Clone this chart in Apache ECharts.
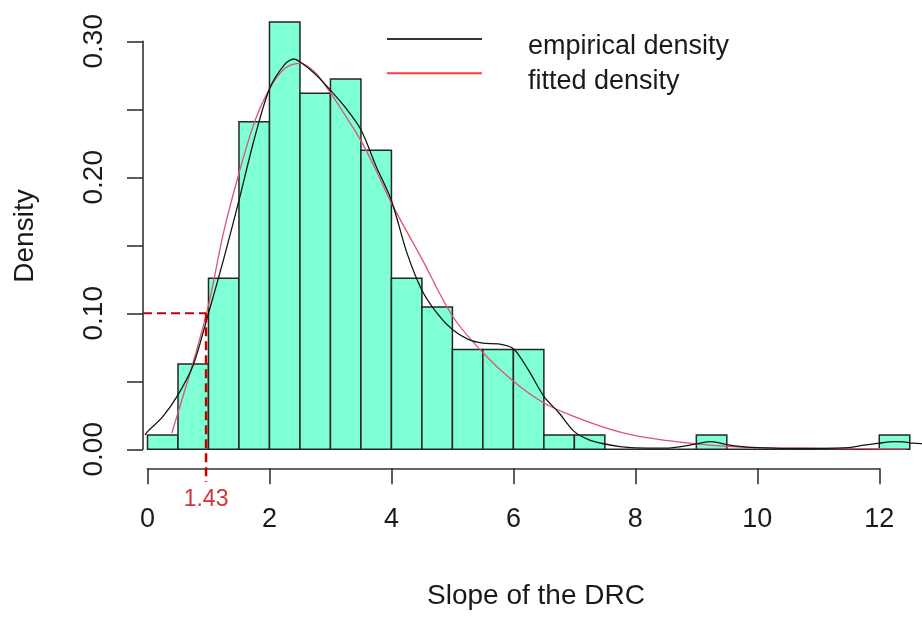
<!DOCTYPE html>
<html><head><meta charset="utf-8">
<script src="https://cdn.jsdelivr.net/npm/echarts@6/dist/echarts.min.js"></script>
<style>html,body{margin:0;padding:0;background:#fff}#c{width:922px;height:617px}</style>
</head><body><div id="c"></div>
<script>
// ---- data ----
const binEdges = [0, 0.5, 1, 1.5, 2, 2.5, 3, 3.5, 4, 4.5, 5, 5.5, 6, 6.5, 7, 7.5, 8, 8.5, 9, 9.5, 10, 10.5, 11, 11.5, 12, 12.5];
const densityValues = [0.0105, 0.0628, 0.1257, 0.2408, 0.3141, 0.2618, 0.2723, 0.2199, 0.1257, 0.1047, 0.0733, 0.0733, 0.0733, 0.0105, 0.0105, 0, 0, 0, 0.0105, 0, 0, 0, 0, 0, 0.0105];
const empiricalX = [-0.04, 0, 0.25, 0.5, 0.75, 1.0, 1.25, 1.5, 1.75, 2.0, 2.25, 2.4, 2.5, 2.75, 3.0, 3.25, 3.5, 3.75, 4.0, 4.25, 4.5, 4.75, 5.0, 5.25, 5.5, 5.75, 6.0, 6.25, 6.5, 6.75, 7.0, 7.25, 7.5, 7.75, 8.0, 8.5, 8.75, 9.0, 9.25, 9.5, 9.75, 10.0, 10.5, 11.0, 11.5, 11.75, 12.0, 12.25, 12.4, 12.55, 12.7];
const empiricalY = [0.0105, 0.013, 0.024, 0.040, 0.062, 0.100, 0.140, 0.183, 0.228, 0.265, 0.283, 0.287, 0.285, 0.276, 0.264, 0.251, 0.235, 0.208, 0.183, 0.145, 0.117, 0.100, 0.088, 0.081, 0.078, 0.0775, 0.074, 0.058, 0.039, 0.0267, 0.013, 0.0068, 0.0039, 0.0019, 0.001, 0.0008, 0.002, 0.004, 0.0056, 0.0035, 0.002, 0.0012, 0.0007, 0.0007, 0.0012, 0.003, 0.0045, 0.0056, 0.0055, 0.0045, 0.0042];
const fittedX = [0.4, 0.5, 0.75, 1.0, 1.25, 1.5, 1.75, 2.0, 2.25, 2.5, 2.75, 3.0, 3.25, 3.5, 3.75, 4.0, 4.5, 5.0, 5.5, 6.0, 6.5, 7.0, 7.5, 8.0, 8.5, 9.0, 9.5, 10.0, 10.5, 11.0, 11.5, 12.0, 12.45];
const fittedY = [0.012, 0.027, 0.064, 0.106, 0.160, 0.203, 0.240, 0.265, 0.280, 0.284, 0.277, 0.262, 0.245, 0.227, 0.205, 0.181, 0.140, 0.098, 0.071, 0.050, 0.034, 0.024, 0.016, 0.010, 0.0065, 0.004, 0.0022, 0.0013, 0.0009, 0.0007, 0.0005, 0.0004, 0.0003];
const xTickLabels = ['0', '2', '4', '6', '8', '10', '12'];
const yTickLabels = ['0.00', '0.10', '0.20', '0.30'];
const cutoffX = 0.96;
const cutoffY = 0.10;
const cutoffLabel = '1.43';
const seriesNames = ['empirical density', 'fitted density'];
const xTitle = 'Slope of the DRC';
const yTitle = 'Density';

// ---- chart ----
const FONT = "'Liberation Sans', Arial, sans-serif";
const TXT = '#1a1a1a';
const AX = '#333';
const RED = '#C40000';
const X_MIN = -0.0738, X_MAX = 12.7006, Y_MIN = -0.04, Y_MAX = 0.33;

const histData = densityValues.map((d, i) => [binEdges[i], binEdges[i + 1], d]);
const empData = empiricalX.map((x, i) => [x, empiricalY[i]]);
const fitData = fittedX.map((x, i) => [x, fittedY[i]]);

const chart = echarts.init(document.getElementById('c'));
const richText = (size) => ({ a: { fontSize: size, fontFamily: FONT, color: TXT, padding: [16, 0, 0, 41] } });

chart.setOption({
  animation: false,
  backgroundColor: '#fff',
  grid: [
    { left: 143, width: 779, top: 0.5, height: 503.2 },
    { left: 147.5, width: 731.8, top: 400, height: 68.3 },
    { left: 143, width: 50, top: 41.3, height: 408 }
  ],
  xAxis: [
    { gridIndex: 0, type: 'value', min: X_MIN, max: X_MAX, show: false },
    { gridIndex: 1, type: 'value', min: 0, max: 12, interval: 2,
      axisLine: { show: true, lineStyle: { color: AX, width: 1.6 } },
      axisTick: { show: true, length: 16, lineStyle: { color: AX, width: 1.6 } },
      axisLabel: { margin: 38, fontSize: 27, fontFamily: FONT, color: TXT,
        formatter: (v) => xTickLabels.indexOf(String(v)) >= 0 ? String(v) : '' },
      splitLine: { show: false } },
    { gridIndex: 2, type: 'value', show: false }
  ],
  yAxis: [
    { gridIndex: 0, type: 'value', min: Y_MIN, max: Y_MAX, show: false },
    { gridIndex: 1, type: 'value', show: false },
    { gridIndex: 2, type: 'value', min: 0, max: 0.3, interval: 0.05,
      axisLine: { show: true, lineStyle: { color: AX, width: 1.6 } },
      axisTick: { show: true, length: 16, lineStyle: { color: AX, width: 1.6 } },
      axisLabel: { rotate: 90, margin: 35, fontSize: 28, fontFamily: FONT, color: TXT,
        formatter: (v) => { const s = v.toFixed(2); return yTickLabels.indexOf(s) >= 0 ? s : ''; } },
      splitLine: { show: false } }
  ],
  legend: [
    { data: [{ name: seriesNames[0], itemStyle: { color: '#333' } }], left: 387, top: 33.5, padding: 0,
      itemWidth: 95, itemHeight: 2, icon: 'rect', selectedMode: false,
      formatter: '{a|{name}}', textStyle: { rich: richText(27) } },
    { data: [{ name: seriesNames[1], itemStyle: { color: '#FF3B3B' } }], left: 387, top: 67.8, padding: 0,
      itemWidth: 95, itemHeight: 2, icon: 'rect', selectedMode: false,
      formatter: '{a|{name}}', textStyle: { rich: richText(27) } }
  ],
  series: [
    { type: 'custom', name: 'histogram', xAxisIndex: 0, yAxisIndex: 0, data: histData,
      encode: { x: [0, 1], y: 2 }, z: 1, silent: true,
      renderItem: (params, api) => {
        const p0 = api.coord([api.value(0), api.value(2)]);
        const p1 = api.coord([api.value(1), 0]);
        return { type: 'rect', shape: { x: p0[0], y: p0[1], width: p1[0] - p0[0], height: p1[1] - p0[1] },
          style: { fill: '#7FFFD4', stroke: '#262626', lineWidth: 1.5 } };
      } },
    { type: 'line', name: seriesNames[0], xAxisIndex: 0, yAxisIndex: 0, data: empData,
      showSymbol: false, smooth: 0.3, z: 4, lineStyle: { color: '#151515', width: 1.3 }, itemStyle: { color: '#333' } },
    { type: 'line', name: seriesNames[1], xAxisIndex: 0, yAxisIndex: 0, data: fitData,
      showSymbol: false, smooth: 0.3, z: 3, lineStyle: { color: '#DF536B', width: 1.3 }, itemStyle: { color: '#FF3B3B' } },
    { type: 'line', name: 'cutoff-h', xAxisIndex: 0, yAxisIndex: 0, data: [[X_MIN, cutoffY], [cutoffX, cutoffY]],
      showSymbol: false, z: 5, lineStyle: { color: RED, width: 2, type: [9, 5] } },
    { type: 'line', name: 'cutoff-v', xAxisIndex: 0, yAxisIndex: 0, data: [[cutoffX, cutoffY], [cutoffX, -0.024]],
      showSymbol: false, z: 5, lineStyle: { color: RED, width: 2.5, type: [9, 5] } },
    { type: 'scatter', name: 'cutoff-label', xAxisIndex: 0, yAxisIndex: 0, data: [[cutoffX, -0.037]],
      symbolSize: 0, z: 6, label: { show: true, position: 'inside', formatter: cutoffLabel,
        fontSize: 23, fontFamily: FONT, color: RED } }
  ],
  graphic: [
    { type: 'text', x: 536, y: 596, style: { text: xTitle, font: "28px " + FONT, fill: TXT, textAlign: 'center', textVerticalAlign: 'middle' } },
    { type: 'text', x: 25, y: 236, rotation: Math.PI / 2, style: { text: yTitle, font: "28px " + FONT, fill: TXT, textAlign: 'center', textVerticalAlign: 'middle' } }
  ]
});
</script></body></html>
